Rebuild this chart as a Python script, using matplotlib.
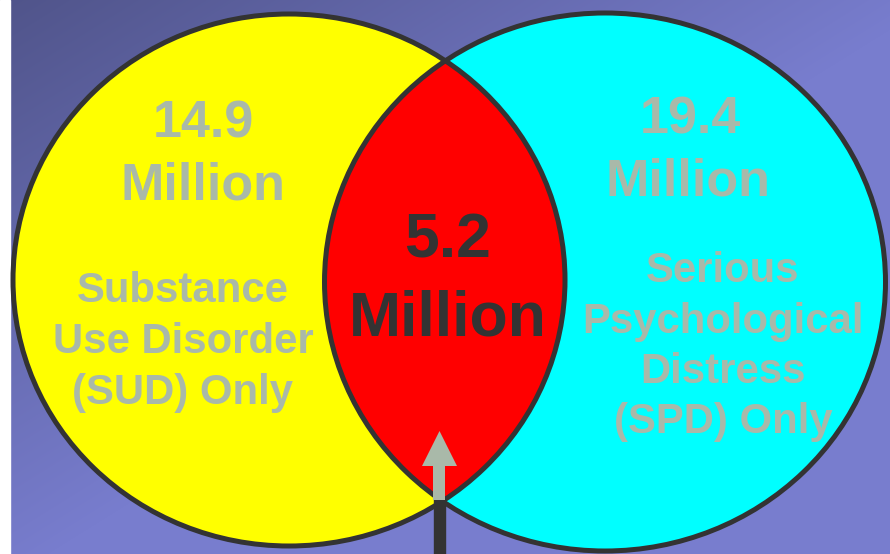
import numpy as np
import matplotlib
matplotlib.use("Agg")
import matplotlib.pyplot as plt
from matplotlib.patches import Ellipse, Polygon, Rectangle

# ---- data ----
values = [14.9, 5.2, 19.4]            # SUD only, both, SPD only (millions)
unit = "Million"
left_label = ["Substance", "Use Disorder", "(SUD) Only"]
right_label = ["Serious", "Psychological", "Distress", "(SPD) Only"]

W, H = 890, 554
fig = plt.figure(figsize=(W / 100, H / 100), dpi=100)
ax = fig.add_axes([0, 0, 1, 1])
ax.set_xlim(0, W)
ax.set_ylim(H, 0)
ax.axis("off")

# background gradient
yy, xx = np.mgrid[0:H, 0:W]
t = np.clip((xx / W) * 0.95 + (yy / H) * 0.95, 0, 1)[..., None]
dark = np.array([80, 84, 138]) / 255
light = np.array([120, 125, 206]) / 255
img = dark * (1 - t) + light * t
ax.imshow(img, extent=[0, W, H, 0], zorder=0, interpolation="bilinear")
ax.add_patch(Rectangle((0, 0), 10, H, color="white", zorder=1))

edge = "#333333"
txt = "#a9b9a9"
font = "Liberation Sans"

left = Ellipse((289, 280), 552, 532, facecolor="#ffff00", edgecolor="none", zorder=2)
right = Ellipse((605, 282), 561, 538, facecolor="#00ffff", edgecolor="none", zorder=3)
ax.add_patch(left)
ax.add_patch(right)
inter = Ellipse((289, 280), 552, 532, facecolor="#ff0000", edgecolor="none", zorder=4)
ax.add_patch(inter)
inter.set_clip_path(right)

ax.add_patch(Ellipse((289, 280), 552, 532, facecolor="none", edgecolor=edge, lw=3.6, zorder=6))
ax.add_patch(Ellipse((605, 282), 561, 538, facecolor="none", edgecolor=edge, lw=3.6, zorder=6))

# arrow
ax.add_patch(Rectangle((434, 497), 11, 60, color=edge, zorder=7))
ax.add_patch(Polygon([(433, 500), (433, 466), (422, 466), (439.5, 431),
                      (457, 466), (445, 466), (445, 500)],
                     closed=True, facecolor=txt, edgecolor="none", zorder=7))

def t_(x, y, s, size, color):
    ax.text(x, y, s, ha="center", va="baseline", fontsize=size, color=color,
            fontweight="bold", family=font, zorder=8)

t_(203, 137, f"{values[0]}", 37.5, txt)
t_(203, 200, unit, 37.5, txt)
for i, s in enumerate(left_label):
    t_(183, 302 + 51 * i, s, 30.2, txt)

t_(690, 133, f"{values[2]}", 37.5, txt)
t_(688, 196, unit, 37.5, txt)
for i, s in enumerate(right_label):
    t_(723, 282 + 50.5 * i, s, 30.2, txt)

t_(448, 258, f"{values[1]}", 45, edge)
t_(448, 335, unit, 45, edge)

fig.savefig("out.png", dpi=100)
